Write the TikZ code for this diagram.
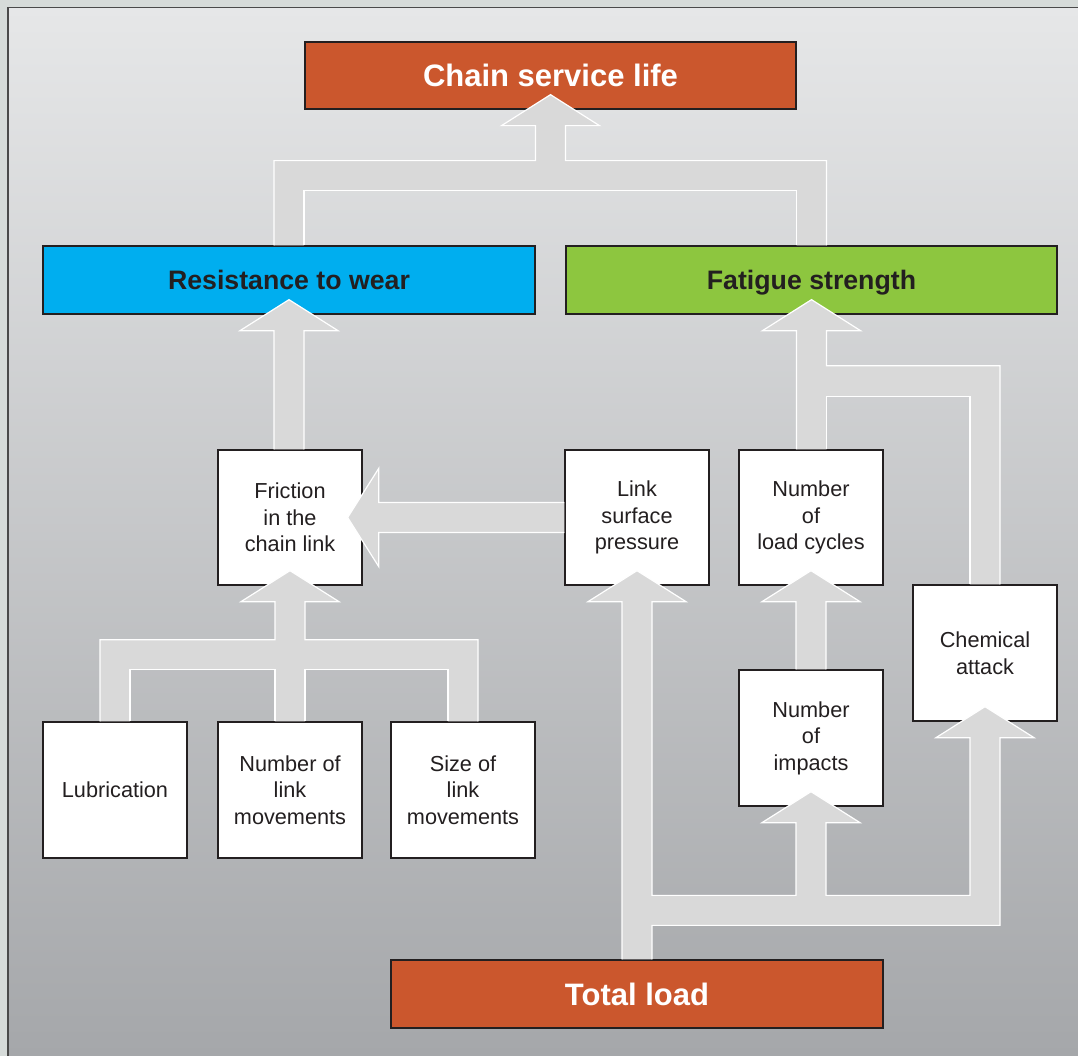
\documentclass[tikz,border=0pt]{standalone}
\usepackage{fontspec}
\setmainfont{Liberation Sans}
\usetikzlibrary{calc}
\definecolor{outerbg}{RGB}{214,219,217}
\definecolor{bgtop}{RGB}{230,231,232}
\definecolor{bgbot}{RGB}{165,167,170}
\definecolor{frameline}{RGB}{74,74,74}
\definecolor{boxline}{RGB}{35,31,32}
\definecolor{textdark}{RGB}{35,31,32}
\definecolor{rust}{RGB}{203,87,45}
\definecolor{cyanbox}{RGB}{0,174,239}
\definecolor{greenbox}{RGB}{141,198,63}
\definecolor{arrowgray}{RGB}{217,217,217}
\tikzset{
  wbox/.style={draw=boxline, line width=1.3pt, fill=white, text=textdark, align=center,
    font=\fontsize{21.7}{26.5}\selectfont, minimum width=144pt, minimum height=135pt, inner sep=0pt},
  tbox/.style={draw=boxline, line width=1.3pt, text=textdark,
    font=\bfseries\fontsize{26.7}{30}\selectfont, text height=19.5pt, text depth=0pt,
    minimum width=491pt, minimum height=67pt, inner sep=0pt},
  obox/.style={tbox, fill=rust, text=white, font=\bfseries\fontsize{31}{36}\selectfont,
    text height=22pt, text depth=0pt},
  afill/.style={fill=arrowgray},
  aline/.style={draw=white, line width=1.2pt, line join=miter},
}
\begin{document}
\begin{tikzpicture}[x=1pt,y=-1pt]
\useasboundingbox (0,0) rectangle (1078,1056);
% background
\fill[outerbg] (0,0) rectangle (1078,1056);
\shade[top color=bgtop, bottom color=bgbot] (8,7.5) rectangle (1078,1056);
\draw[frameline, line width=1.5pt] (8,1056) -- (8,7.5) -- (1078,7.5);

% nodes
\node[obox] (chain) at (550.5,75.5) {Chain service life};
\node[tbox, fill=cyanbox, minimum width=492pt, minimum height=68pt] (res) at (289,280) {Resistance to wear};
\node[tbox, fill=greenbox, minimum height=68pt] (fat) at (811.5,280) {Fatigue strength};
\node[wbox] (fric) at (290,517.5) {Friction\\in the\\chain link};
\node[wbox] (lsp) at (637,517.5) {Link\\surface\\pressure};
\node[wbox] (lc) at (811,517.5) {Number\\of\\load cycles};
\node[wbox, minimum height=136pt] (chem) at (985,653) {Chemical\\attack};
\node[wbox, minimum height=136pt] (imp) at (811,738) {Number\\of\\impacts};
\node[wbox, minimum height=136pt] (lub) at (115,790) {Lubrication};
\node[wbox, minimum height=136pt] (nlm) at (290,790) {Number of\\link\\movements};
\node[wbox, minimum height=136pt] (slm) at (463,790) {Size of\\link\\movements};
\node[obox, minimum width=492pt, minimum height=68pt] (total) at (637,994) {Total load};

% ---- block arrows ----
% Resistance + Fatigue -> Chain service life
\def\forktopA{($(res.north)+(-15,0)$) |- ($(chain.south)+(-15,51)$) -- ($(chain.south)+(-15,16)$) -- ($(chain.south)+(-49,16)$) -- ($(chain.south)+(0,-15)$) -- ($(chain.south)+(49,16)$) -- ($(chain.south)+(15,16)$) -- ($(chain.south)+(15,51)$) -| ($(fat.north)+(15,0)$)}
\def\forktopB{($(fat.north)+(-15,0)$) |- ($(chain.south)+(0,81)$) -| ($(res.north)+(15,0)$)}
\fill[afill] \forktopA -- \forktopB -- cycle;
\draw[aline] \forktopA;
\draw[aline] \forktopB;

% Friction -> Resistance
\def\frA{($(fric.north -| res.south)+(-15,0)$) -- ($(res.south)+(-15,16)$) -- ($(res.south)+(-49,16)$) -- ($(res.south)+(0,-15)$) -- ($(res.south)+(49,16)$) -- ($(res.south)+(15,16)$) -- ($(fric.north -| res.south)+(15,0)$)}
\fill[afill] \frA -- cycle;
\draw[aline] \frA;

% Load cycles + Chemical attack -> Fatigue
\def\ffA{($(lc.north -| fat.south)+(-15,0)$) -- ($(fat.south)+(-15,16)$) -- ($(fat.south)+(-49,16)$) -- ($(fat.south)+(0,-15)$) -- ($(fat.south)+(49,16)$) -- ($(fat.south)+(15,16)$) -- ($(fat.south)+(15,51)$) -| ($(chem.north)+(15,0)$)}
\def\ffB{($(chem.north)+(-15,0)$) |- ($(fat.south)+(15,82)$) -- ($(lc.north -| fat.south)+(15,0)$)}
\fill[afill] \ffA -- \ffB -- cycle;
\draw[aline] \ffA;
\draw[aline] \ffB;

% Link surface pressure -> Friction
\def\hA{($(lsp.west |- fric.east)+(0,-15)$) -| ($(fric.east)+(16,-49)$) -- ($(fric.east)+(-15,0)$) -- ($(fric.east)+(16,49)$) |- ($(lsp.west |- fric.east)+(0,15)$)}
\fill[afill] \hA -- cycle;
\draw[aline] \hA;

% Lubrication, Number/Size of link movements -> Friction
\def\flA{($(lub.north)+(-15,0)$) |- ($(fric.south)+(-15,54)$) -- ($(fric.south)+(-15,16)$) -- ($(fric.south)+(-49,16)$) -- ($(fric.south)+(0,-15)$) -- ($(fric.south)+(49,16)$) -- ($(fric.south)+(15,16)$) -- ($(fric.south)+(15,54)$) -| ($(slm.north)+(15,0)$)}
\def\flB{($(slm.north)+(-15,0)$) |- ($(fric.south)+(15,84)$) -- ($(nlm.north)+(15,0)$)}
\def\flC{($(nlm.north)+(-15,0)$) -- ($(fric.south)+(-15,84)$) -| ($(lub.north)+(15,0)$)}
\fill[afill] \flA -- \flB -- \flC -- cycle;
\draw[aline] \flA;
\draw[aline] \flB;
\draw[aline] \flC;

% Impacts -> Load cycles
\def\ilA{($(imp.north -| lc.south)+(-15,0)$) -- ($(lc.south)+(-15,16)$) -- ($(lc.south)+(-49,16)$) -- ($(lc.south)+(0,-15)$) -- ($(lc.south)+(49,16)$) -- ($(lc.south)+(15,16)$) -- ($(imp.north -| lc.south)+(15,0)$)}
\fill[afill] \ilA -- cycle;
\draw[aline] \ilA;

% Total load -> Link surface pressure, Impacts, Chemical attack
\coordinate (barT) at ($(total.north)+(0,-64)$);
\coordinate (barB) at ($(total.north)+(0,-34)$);
\def\tlA{($(total.north)+(-15,0)$) -- ($(lsp.south)+(-15,16)$) -- ($(lsp.south)+(-49,16)$) -- ($(lsp.south)+(0,-15)$) -- ($(lsp.south)+(49,16)$) -- ($(lsp.south)+(15,16)$) -- ($(lsp.south |- barT)+(15,0)$) -- ($(imp.south |- barT)+(-15,0)$) -- ($(imp.south)+(-15,16)$) -- ($(imp.south)+(-49,16)$) -- ($(imp.south)+(0,-15)$) -- ($(imp.south)+(49,16)$) -- ($(imp.south)+(15,16)$) -- ($(imp.south |- barT)+(15,0)$) -- ($(chem.south |- barT)+(-15,0)$) -- ($(chem.south)+(-15,16)$) -- ($(chem.south)+(-49,16)$) -- ($(chem.south)+(0,-15)$) -- ($(chem.south)+(49,16)$) -- ($(chem.south)+(15,16)$) -- ($(chem.south |- barB)+(15,0)$) -- ($(lsp.south |- barB)+(15,0)$) -- ($(total.north)+(15,0)$)}
\fill[afill] \tlA -- cycle;
\draw[aline] \tlA;
\end{tikzpicture}
\end{document}
